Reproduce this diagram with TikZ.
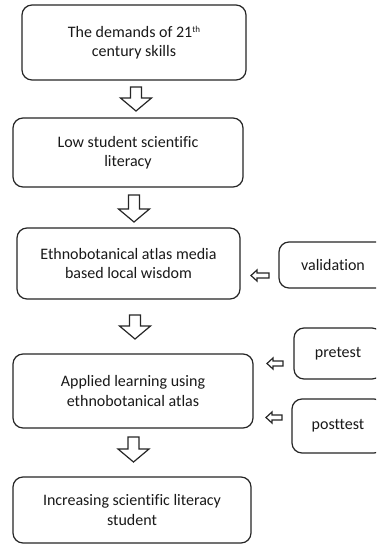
\documentclass[tikz,border=0pt]{standalone}
\usepackage{fontspec}
\setmainfont[Ligatures=NoCommon]{Carlito}
\begin{document}
\begin{tikzpicture}[x=1pt,y=-1pt,
  box/.style={draw=black!85, line width=1.2pt, rounded corners=10pt, align=center,
    inner sep=0pt, font=\fontsize{16}{19.5}\selectfont, text=black!90},
  blk/.style={draw=black!85, line width=1.2pt, fill=white, line join=miter},
  pics/downarr/.style={code={\draw[blk] (-5.5,0) -- (5.5,0) -- (5.5,#1-13) -- (15.5,#1-13) -- (0,#1) -- (-15.5,#1-13) -- (-5.5,#1-13) -- cycle;}},
  pics/leftarr/.style={code={\draw[blk] (0,0) -- (6,-5.5) -- (6,-2.5) -- (#1,-2.5) -- (#1,2.5) -- (6,2.5) -- (6,5.5) -- cycle;}}
]
\useasboundingbox (0,0) rectangle (376,544);
\clip (0,0) rectangle (376,544);
\fill[white] (0,0) rectangle (376,544);

\node[box, minimum width=224pt, minimum height=75pt] (b1) at (134,42.5) {The demands of 21\raisebox{5pt}{\fontsize{9}{9}\selectfont th}\\century skills};
\node[box, minimum width=230pt, minimum height=69pt] (b2) at (128,152.5) {Low student scientific\\literacy};
\node[box, minimum width=223pt, minimum height=71pt] (b3) at (128.5,263.5) {Ethnobotanical atlas media\\based local wisdom};
\node[box, minimum width=240pt, minimum height=74pt] (b4) at (133,391) {Applied learning using\\ethnobotanical atlas};
\node[box, minimum width=238pt, minimum height=66pt] (b5) at (132,510) {Increasing scientific literacy\\student};

\node[box, minimum width=108pt, minimum height=46pt] (val) at (333,265) {validation};
\node[box, minimum width=88pt, minimum height=51pt] (pre) at (338,353.5) {pretest};
\node[box, minimum width=92pt, minimum height=54pt] (post) at (338,426) {posttest};

\pic (a1) at (136,87) {downarr=24};
\pic (a2) at (134,195) {downarr=27};
\pic (a3) at (135,315) {downarr=24};
\pic (a4) at (133.5,437) {downarr=25};

\pic (s1) at (251,275.5) {leftarr=18};
\pic (s2) at (267,363.5) {leftarr=16};
\pic (s3) at (266,417.5) {leftarr=16};
\end{tikzpicture}
\end{document}
